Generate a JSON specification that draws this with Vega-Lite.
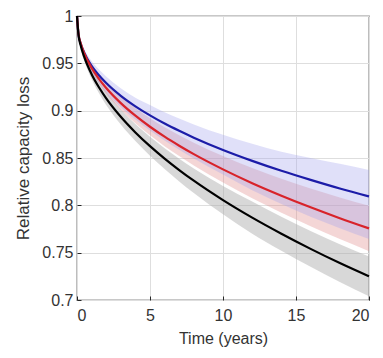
{
  "$schema": "https://vega.github.io/schema/vega-lite/v6.json",
  "width": 292,
  "height": 284,
  "autosize": {"type": "none"},
  "padding": {"left": 77, "top": 16, "right": 14, "bottom": 58},
  "background": "white",
  "datasets": {
    "curves": [
      {"t": 0, "s": "blue", "y": 1, "lo": 1, "hi": 1},
      {"t": 0.1, "s": "blue", "y": 0.9805, "lo": 0.9785, "hi": 0.9825},
      {"t": 0.25, "s": "blue", "y": 0.971, "lo": 0.968, "hi": 0.974},
      {"t": 0.5, "s": "blue", "y": 0.961, "lo": 0.956, "hi": 0.965},
      {"t": 1, "s": "blue", "y": 0.9474, "lo": 0.9414, "hi": 0.9524},
      {"t": 1.5, "s": "blue", "y": 0.9374, "lo": 0.9294, "hi": 0.9434},
      {"t": 2, "s": "blue", "y": 0.9292, "lo": 0.9192, "hi": 0.9362},
      {"t": 3, "s": "blue", "y": 0.9157, "lo": 0.9037, "hi": 0.9237},
      {"t": 4, "s": "blue", "y": 0.9046, "lo": 0.8906, "hi": 0.9136},
      {"t": 5, "s": "blue", "y": 0.895, "lo": 0.879, "hi": 0.906},
      {"t": 6, "s": "blue", "y": 0.8864, "lo": 0.8684, "hi": 0.8984},
      {"t": 7, "s": "blue", "y": 0.8787, "lo": 0.8587, "hi": 0.8917},
      {"t": 8, "s": "blue", "y": 0.8715, "lo": 0.8495, "hi": 0.8855},
      {"t": 10, "s": "blue", "y": 0.8585, "lo": 0.8325, "hi": 0.8745},
      {"t": 12, "s": "blue", "y": 0.847, "lo": 0.816, "hi": 0.865},
      {"t": 14, "s": "blue", "y": 0.8365, "lo": 0.8015, "hi": 0.8565},
      {"t": 16, "s": "blue", "y": 0.8269, "lo": 0.7879, "hi": 0.8499},
      {"t": 18, "s": "blue", "y": 0.8178, "lo": 0.7758, "hi": 0.8438},
      {"t": 20, "s": "blue", "y": 0.8094, "lo": 0.7644, "hi": 0.8374},
      {"t": 0, "s": "red", "y": 1, "lo": 1, "hi": 1},
      {"t": 0.1, "s": "red", "y": 0.9814, "lo": 0.9794, "hi": 0.9834},
      {"t": 0.25, "s": "red", "y": 0.9714, "lo": 0.9684, "hi": 0.9744},
      {"t": 0.5, "s": "red", "y": 0.9604, "lo": 0.9574, "hi": 0.9634},
      {"t": 1, "s": "red", "y": 0.9451, "lo": 0.9411, "hi": 0.9491},
      {"t": 1.5, "s": "red", "y": 0.9336, "lo": 0.9286, "hi": 0.9386},
      {"t": 2, "s": "red", "y": 0.9239, "lo": 0.9179, "hi": 0.9299},
      {"t": 3, "s": "red", "y": 0.908, "lo": 0.901, "hi": 0.915},
      {"t": 4, "s": "red", "y": 0.8947, "lo": 0.8867, "hi": 0.9027},
      {"t": 5, "s": "red", "y": 0.883, "lo": 0.874, "hi": 0.892},
      {"t": 6, "s": "red", "y": 0.8725, "lo": 0.8625, "hi": 0.8825},
      {"t": 7, "s": "red", "y": 0.863, "lo": 0.852, "hi": 0.874},
      {"t": 8, "s": "red", "y": 0.8541, "lo": 0.8421, "hi": 0.8661},
      {"t": 10, "s": "red", "y": 0.838, "lo": 0.824, "hi": 0.852},
      {"t": 12, "s": "red", "y": 0.8234, "lo": 0.8074, "hi": 0.8394},
      {"t": 14, "s": "red", "y": 0.8102, "lo": 0.7922, "hi": 0.8282},
      {"t": 16, "s": "red", "y": 0.7979, "lo": 0.7779, "hi": 0.8179},
      {"t": 18, "s": "red", "y": 0.7864, "lo": 0.7644, "hi": 0.8084},
      {"t": 20, "s": "red", "y": 0.7756, "lo": 0.7516, "hi": 0.7996},
      {"t": 0, "s": "black", "y": 1, "lo": 1, "hi": 1},
      {"t": 0.1, "s": "black", "y": 0.9805, "lo": 0.9785, "hi": 0.9825},
      {"t": 0.25, "s": "black", "y": 0.969, "lo": 0.966, "hi": 0.972},
      {"t": 0.5, "s": "black", "y": 0.9565, "lo": 0.9525, "hi": 0.9605},
      {"t": 1, "s": "black", "y": 0.9385, "lo": 0.9335, "hi": 0.9435},
      {"t": 1.5, "s": "black", "y": 0.9247, "lo": 0.9187, "hi": 0.9307},
      {"t": 2, "s": "black", "y": 0.913, "lo": 0.906, "hi": 0.92},
      {"t": 3, "s": "black", "y": 0.8935, "lo": 0.8855, "hi": 0.9015},
      {"t": 4, "s": "black", "y": 0.877, "lo": 0.868, "hi": 0.886},
      {"t": 5, "s": "black", "y": 0.8625, "lo": 0.8525, "hi": 0.8725},
      {"t": 6, "s": "black", "y": 0.8494, "lo": 0.8384, "hi": 0.8604},
      {"t": 7, "s": "black", "y": 0.8373, "lo": 0.8253, "hi": 0.8493},
      {"t": 8, "s": "black", "y": 0.826, "lo": 0.813, "hi": 0.839},
      {"t": 10, "s": "black", "y": 0.8055, "lo": 0.7905, "hi": 0.8205},
      {"t": 12, "s": "black", "y": 0.787, "lo": 0.77, "hi": 0.804},
      {"t": 14, "s": "black", "y": 0.77, "lo": 0.752, "hi": 0.788},
      {"t": 16, "s": "black", "y": 0.754, "lo": 0.735, "hi": 0.773},
      {"t": 18, "s": "black", "y": 0.739, "lo": 0.719, "hi": 0.759},
      {"t": 20, "s": "black", "y": 0.725, "lo": 0.704, "hi": 0.746}
    ]
  },
  "data": {"name": "curves"},
  "encoding": {
    "x": {
      "field": "t", "type": "quantitative",
      "scale": {"domain": [0, 20], "nice": false},
      "axis": {"values": [0, 5, 10, 15, 20], "title": "Time (years)"}
    }
  },
  "layer": [
    {
      "transform": [{"filter": "datum.s === 'black'"}],
      "mark": {"type": "area", "interpolate": "monotone", "color": "#a8a8a8", "opacity": 0.45},
      "encoding": {
        "y": {"field": "lo", "type": "quantitative", "scale": {"domain": [0.7, 1], "nice": false},
              "axis": {"values": [0.7, 0.75, 0.8, 0.85, 0.9, 0.95, 1], "format": "~g", "title": "Relative capacity loss"}},
        "y2": {"field": "hi"}
      }
    },
    {
      "transform": [{"filter": "datum.s === 'red'"}],
      "mark": {"type": "area", "interpolate": "monotone", "color": "#e08a8a", "opacity": 0.35},
      "encoding": {"y": {"field": "lo", "type": "quantitative"}, "y2": {"field": "hi"}}
    },
    {
      "transform": [{"filter": "datum.s === 'blue'"}],
      "mark": {"type": "area", "interpolate": "monotone", "color": "#a0a0ee", "opacity": 0.33},
      "encoding": {"y": {"field": "lo", "type": "quantitative"}, "y2": {"field": "hi"}}
    },
    {
      "mark": {"type": "line", "interpolate": "monotone", "strokeWidth": 2.2},
      "encoding": {
        "y": {"field": "y", "type": "quantitative"},
        "color": {"field": "s", "type": "nominal",
                  "scale": {"domain": ["black", "red", "blue"], "range": ["#000000", "#d8232a", "#1c1ca8"]},
                  "legend": null}
      }
    }
  ],
  "config": {
    "view": {"stroke": "#262626", "strokeWidth": 1.2},
    "axis": {
      "labelFont": "Liberation Sans",
      "titleFont": "Liberation Sans",
      "labelFontSize": 16,
      "titleFontSize": 16,
      "titleFontWeight": "normal",
      "labelColor": "#333333",
      "titleColor": "#333333",
      "grid": true,
      "gridColor": "#dedede",
      "gridWidth": 1,
      "domain": false,
      "tickColor": "#262626",
      "tickSize": -4
    },
    "axisX": {"labelPadding": 11, "titlePadding": 7},
    "axisY": {"labelPadding": 8, "titlePadding": 9, "titleFontSize": 17}
  }
}
